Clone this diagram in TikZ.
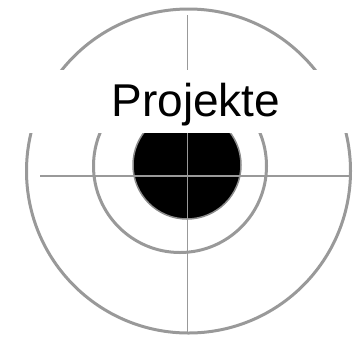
\documentclass[tikz,border=0pt]{standalone}
\usepackage{fontspec}
\setmainfont{Liberation Sans}
\begin{document}
\begin{tikzpicture}[x=1pt,y=-1pt]
    \tikzstyle{ring}=[draw=black!40,line width=3pt]
    \tikzstyle{cross}=[draw=black!40,line width=1.6pt]
    \useasboundingbox (0,0) rectangle (355,338);
    \coordinate (top) at (187.5,15);
    \coordinate (bottom) at (187.5,334);
    \coordinate (left) at (40,176);
    \coordinate (right) at (352,176);
    \filldraw[fill=black,draw=black!45,line width=1.5pt] (187,165) circle (54pt);
    \path[ring] (188.5,171) circle (162pt);
    \path[ring] (180,166) circle (86.5pt);
    \draw[cross] (top) -- (bottom);
    \draw[cross] (left) -- (right);
    \fill[white] (0,70) rectangle (355,133);
    \node[font=\fontsize{46}{46}\selectfont, anchor=base, inner sep=0pt] (label) at (196,116.7) {Projekte};
\end{tikzpicture}
\end{document}
